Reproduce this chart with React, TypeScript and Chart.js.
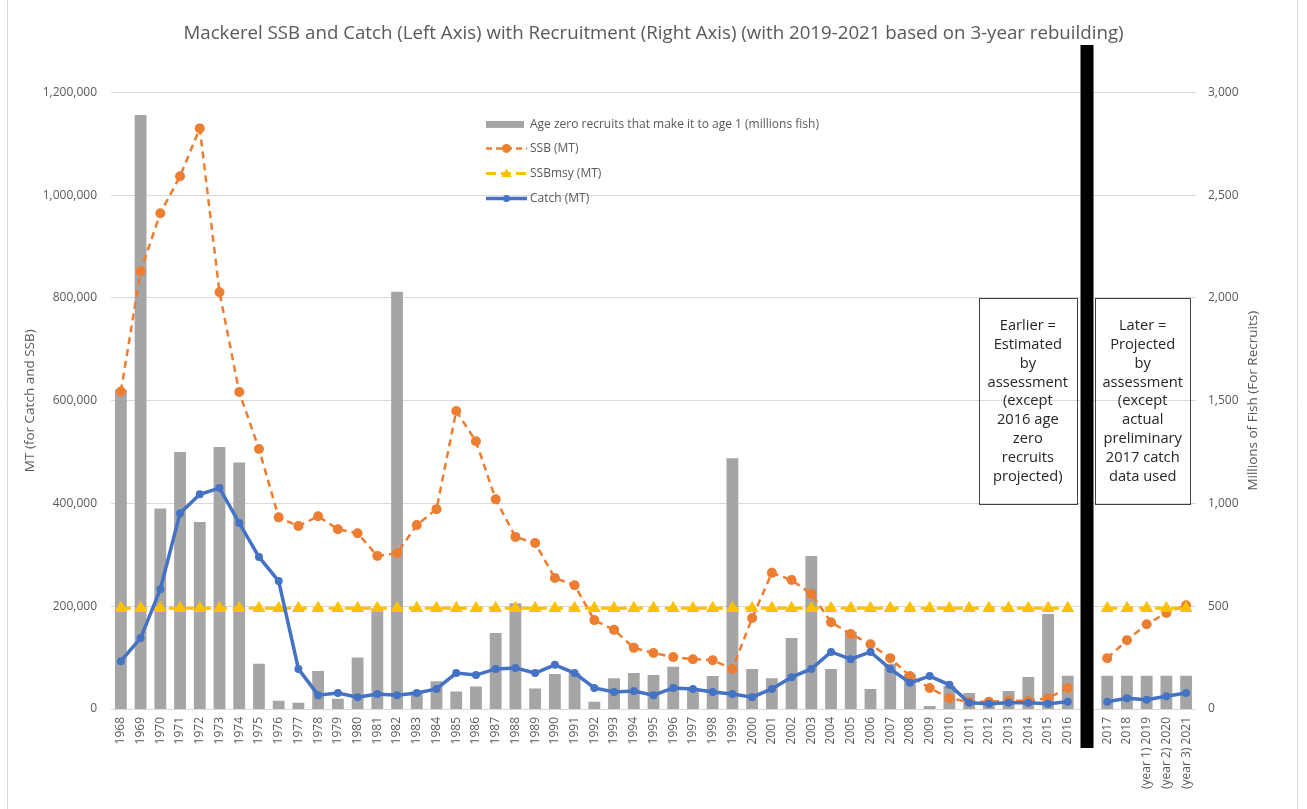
import React, { useEffect, useRef } from "react";
import { Chart, registerables } from "chart.js";

Chart.register(...registerables);

const FONT = "'Open Sans', 'DejaVu Sans', sans-serif";
const GRAY_TEXT = "#595959";

const titleText =
  "Mackerel SSB and Catch (Left Axis) with Recruitment (Right Axis) (with 2019-2021 based on 3-year rebuilding)";

const categories = [
  "1968", "1969", "1970", "1971", "1972", "1973", "1974", "1975", "1976", "1977",
  "1978", "1979", "1980", "1981", "1982", "1983", "1984", "1985", "1986", "1987",
  "1988", "1989", "1990", "1991", "1992", "1993", "1994", "1995", "1996", "1997",
  "1998", "1999", "2000", "2001", "2002", "2003", "2004", "2005", "2006", "2007",
  "2008", "2009", "2010", "2011", "2012", "2013", "2014", "2015", "2016",
  "",
  "2017", "2018", "(year 1) 2019", "(year 2) 2020", "(year 3) 2021",
];

// Right axis: millions of fish
const recruits = [
  1555, 2890, 975, 1250, 910, 1275, 1200, 220, 40, 30,
  185, 50, 250, 490, 2030, 85, 135, 85, 110, 370,
  515, 100, 170, 175, 35, 150, 175, 165, 205, 95,
  160, 1220, 195, 150, 345, 745, 195, 375, 97, 220,
  170, 15, 112, 78, 42, 88, 156, 462, 162,
  null,
  162, 162, 162, 162, 162,
];

// Left axis: MT
const ssb = [
  618000, 852000, 965000, 1037000, 1130000, 811000, 617000, 506000, 373000, 356000,
  375000, 350000, 342000, 298000, 303000, 358000, 389000, 580000, 521000, 408000,
  335000, 323000, 255000, 241000, 173000, 154000, 119000, 109000, 101000, 97000,
  95000, 78000, 177000, 265000, 251000, 224000, 169000, 146000, 126000, 99000,
  64000, 41000, 21000, 14000, 14000, 16000, 16000, 21000, 41000,
  null,
  99000, 134000, 165000, 187000, 202000,
];

const ssbMsy = [
  196000, 196000, 196000, 196000, 196000, 196000, 196000, 196000, 196000, 196000,
  196000, 196000, 196000, 196000, 196000, 196000, 196000, 196000, 196000, 196000,
  196000, 196000, 196000, 196000, 196000, 196000, 196000, 196000, 196000, 196000,
  196000, 196000, 196000, 196000, 196000, 196000, 196000, 196000, 196000, 196000,
  196000, 196000, 196000, 196000, 196000, 196000, 196000, 196000, 196000,
  null,
  196000, 196000, 196000, 196000, 196000,
];

const catchMt = [
  93000, 138000, 233000, 381000, 418000, 430000, 362000, 296000, 249000, 78000,
  27000, 31000, 23000, 29000, 27000, 31000, 39000, 70000, 66000, 78000,
  80000, 70000, 86000, 70000, 41000, 33000, 35000, 27000, 41000, 39000,
  33000, 29000, 23000, 39000, 62000, 78000, 111000, 97000, 111000, 78000,
  51000, 64000, 47000, 12000, 10000, 12000, 12000, 10000, 14000,
  null,
  14000, 21000, 18000, 25000, 31000,
];

const legendLabels = [
  "Age zero recruits that make it to age 1 (millions fish)",
  "SSB (MT)",
  "SSBmsy (MT)",
  "Catch (MT)",
];

const earlierNote = ["Earlier =", "Estimated", "by", "assessment", "(except", "2016 age", "zero", "recruits", "projected)"];
const laterNote = ["Later =", "Projected", "by", "assessment", "(except", "actual", "preliminary", "2017 catch", "data used"];

const leftTicks = { min: 0, max: 1200000, step: 200000 };
const rightTicks = { min: 0, max: 3000, step: 500 };

const COLORS = {
  bar: "#a5a5a5",
  ssb: "#ed7d31",
  msy: "#ffc000",
  catch: "#4472c4",
};

const GAP_INDEX = categories.indexOf("");

const overlayPlugin = {
  id: "overlay",
  afterDraw(chart: any) {
    const { ctx, chartArea, scales } = chart;
    const x = scales.x;
    const y = scales.y;
    const half = (x.getPixelForValue(1) - x.getPixelForValue(0)) / 2;
    ctx.save();

    // outer chart border
    ctx.strokeStyle = "#d9d9d9";
    ctx.lineWidth = 1;
    ctx.beginPath();
    ctx.moveTo(7.5, 0);
    ctx.lineTo(7.5, chart.height);
    ctx.moveTo(1297.5, 0);
    ctx.lineTo(1297.5, chart.height);
    ctx.stroke();

    // black separator
    const gx = x.getPixelForValue(GAP_INDEX);
    ctx.fillStyle = "#000";
    ctx.fillRect(gx - 7, 45, 13, 748 - 45);

    // note boxes
    const bTop = y.getPixelForValue(800000);
    const bBot = y.getPixelForValue(400000);
    const drawBox = (l: number, r: number, lines: string[]) => {
      ctx.strokeStyle = "#404040";
      ctx.lineWidth = 1;
      ctx.strokeRect(Math.round(l) + 0.5, Math.round(bTop) + 0.5, Math.round(r - l), Math.round(bBot - bTop));
      ctx.fillStyle = "#262626";
      ctx.font = `14.7px ${FONT}`;
      ctx.textAlign = "center";
      ctx.textBaseline = "middle";
      const cx = (l + r) / 2;
      lines.forEach((t, i) => ctx.fillText(t, cx, bTop + 28 + i * 18.8));
    };
    drawBox(x.getPixelForValue(43) + half, x.getPixelForValue(48) + half - 1, earlierNote);
    drawBox(gx + half * 0.8, x.getPixelForValue(categories.length - 1) + half - 6, laterNote);

    // right axis title (reads bottom to top)
    ctx.save();
    ctx.translate(1253, (chartArea.top + chartArea.bottom) / 2);
    ctx.rotate(-Math.PI / 2);
    ctx.fillStyle = GRAY_TEXT;
    ctx.font = `13.5px ${FONT}`;
    ctx.textAlign = "center";
    ctx.textBaseline = "middle";
    ctx.fillText("Millions of Fish (For Recruits)", 0, 0);
    ctx.restore();

    // legend
    const lx = chartArea.left + 375;
    const rows = [chartArea.top + 32, chartArea.top + 56, chartArea.top + 81, chartArea.top + 106];
    const lw = 41;
    ctx.font = `12px ${FONT}`;
    ctx.textAlign = "left";
    ctx.textBaseline = "middle";
    // bar
    ctx.fillStyle = COLORS.bar;
    ctx.fillRect(lx, rows[0] - 3.5, lw - 3, 7);
    // ssb
    ctx.strokeStyle = COLORS.ssb;
    ctx.lineWidth = 2.5;
    ctx.setLineDash([6, 4]);
    ctx.beginPath();
    ctx.moveTo(lx, rows[1]);
    ctx.lineTo(lx + lw, rows[1]);
    ctx.stroke();
    ctx.setLineDash([]);
    ctx.fillStyle = COLORS.ssb;
    ctx.beginPath();
    ctx.arc(lx + lw / 2, rows[1], 4.5, 0, Math.PI * 2);
    ctx.fill();
    // msy
    ctx.strokeStyle = COLORS.msy;
    ctx.lineWidth = 3;
    ctx.setLineDash([10, 5]);
    ctx.beginPath();
    ctx.moveTo(lx, rows[2]);
    ctx.lineTo(lx + lw, rows[2]);
    ctx.stroke();
    ctx.setLineDash([]);
    ctx.fillStyle = COLORS.msy;
    ctx.beginPath();
    const tcx = lx + lw / 2;
    ctx.moveTo(tcx, rows[2] - 5);
    ctx.lineTo(tcx + 5, rows[2] + 3.5);
    ctx.lineTo(tcx - 5, rows[2] + 3.5);
    ctx.closePath();
    ctx.fill();
    // catch
    ctx.strokeStyle = COLORS.catch;
    ctx.lineWidth = 3.5;
    ctx.beginPath();
    ctx.moveTo(lx, rows[3]);
    ctx.lineTo(lx + lw, rows[3]);
    ctx.stroke();
    ctx.fillStyle = COLORS.catch;
    ctx.beginPath();
    ctx.arc(lx + lw / 2, rows[3], 3.5, 0, Math.PI * 2);
    ctx.fill();
    // legend texts
    ctx.fillStyle = GRAY_TEXT;
    legendLabels.forEach((t, i) => ctx.fillText(t, lx + lw + 3, rows[i]));

    ctx.restore();
  },
};

export default function App() {
  const ref = useRef<HTMLCanvasElement | null>(null);

  useEffect(() => {
    if (!ref.current) return;
    const tickFont = { family: FONT, size: 12 };
    const chart = new Chart(ref.current, {
      type: "bar",
      data: {
        labels: categories,
        datasets: [
          {
            type: "line",
            label: legendLabels[3],
            data: catchMt,
            yAxisID: "y",
            borderColor: COLORS.catch,
            backgroundColor: COLORS.catch,
            borderWidth: 3.5,
            pointRadius: 4,
            pointBorderWidth: 0,
            pointBackgroundColor: COLORS.catch,
            spanGaps: false,
            tension: 0,
            order: 0,
          },
          {
            type: "line",
            label: legendLabels[2],
            data: ssbMsy,
            yAxisID: "y",
            borderColor: COLORS.msy,
            backgroundColor: COLORS.msy,
            borderWidth: 3,
            borderDash: [10, 6],
            pointStyle: "triangle",
            pointRadius: 7.5,
            pointBorderWidth: 0,
            pointBackgroundColor: COLORS.msy,
            spanGaps: false,
            order: 1,
          },
          {
            type: "line",
            label: legendLabels[1],
            data: ssb,
            yAxisID: "y",
            borderColor: COLORS.ssb,
            backgroundColor: COLORS.ssb,
            borderWidth: 2.5,
            borderDash: [7, 5],
            pointRadius: 5,
            pointBorderWidth: 0,
            pointBackgroundColor: COLORS.ssb,
            spanGaps: false,
            tension: 0,
            order: 2,
          },
          {
            type: "bar",
            label: legendLabels[0],
            data: recruits,
            yAxisID: "y1",
            backgroundColor: COLORS.bar,
            barPercentage: 0.6,
            categoryPercentage: 1,
            order: 3,
          },
        ],
      },
      options: {
        responsive: false,
        animation: false,
        layout: { padding: 0 },
        plugins: {
          legend: { display: false },
          tooltip: { enabled: false },
          title: {
            display: true,
            text: titleText,
            color: GRAY_TEXT,
            font: { family: FONT, size: 18.7, weight: "normal" },
            padding: { top: 22, bottom: 48 },
          },
        },
        scales: {
          x: {
            type: "category",
            offset: true,
            grid: { display: false, drawTicks: false },
            border: { display: false },
            ticks: {
              autoSkip: false,
              minRotation: 90,
              maxRotation: 90,
              padding: 8,
              color: GRAY_TEXT,
              font: tickFont,
            },
            afterFit: (s: any) => {
              s.height = 100;
            },
          },
          y: {
            position: "left",
            min: leftTicks.min,
            max: leftTicks.max,
            grid: { color: "#d9d9d9", drawTicks: false, lineWidth: 1 },
            border: { display: false },
            ticks: {
              stepSize: leftTicks.step,
              padding: 14,
              color: GRAY_TEXT,
              font: tickFont,
              callback: (v: any) => Number(v).toLocaleString("en-US"),
            },
            title: {
              display: true,
              text: "MT (for Catch and SSB)",
              color: GRAY_TEXT,
              font: { family: FONT, size: 13.5 },
              padding: { top: 22, bottom: 0 },
            },
            afterFit: (s: any) => {
              s.width = 111;
            },
          },
          y1: {
            position: "right",
            min: rightTicks.min,
            max: rightTicks.max,
            grid: { display: false, drawTicks: false },
            border: { display: false },
            ticks: {
              stepSize: rightTicks.step,
              padding: 12,
              color: GRAY_TEXT,
              font: tickFont,
              callback: (v: any) => Number(v).toLocaleString("en-US"),
            },
            afterFit: (s: any) => {
              s.width = 111;
            },
          },
        },
      } as any,
      plugins: [overlayPlugin],
    });
    return () => chart.destroy();
  }, []);

  return (
    <div style={{ position: "fixed", left: 0, top: 0, width: 1307, height: 809, background: "#fff" }}>
      <canvas ref={ref} width={1307} height={809} style={{ width: 1307, height: 809, display: "block" }} />
    </div>
  );
}
